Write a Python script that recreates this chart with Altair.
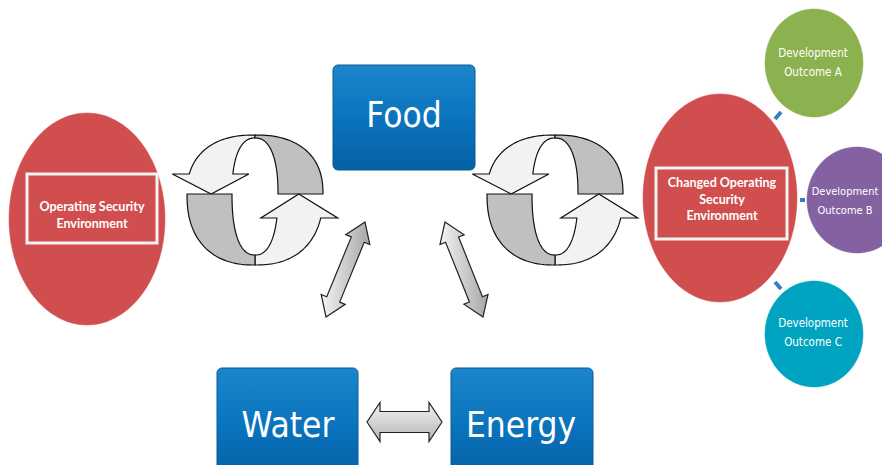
import math
import altair as alt

# ---------------- data (page pixel coordinates) ----------------
BOX_LABELS = ["Food", "Water", "Energy"]
BOX_X0 = [333, 217, 451]
BOX_X1 = [475, 358, 593]
BOX_Y0 = [65, 368, 368]
BOX_Y1 = [170, 478, 478]
BOX_TEXT_X = [404, 288, 521]
BOX_TEXT_Y = [127, 437, 437]

ENV_CX = [87, 720]
ENV_CY = [219, 198]
ENV_RX = [78, 77]
ENV_RY = [106, 104]
ENV_RECT_X0 = [27, 656]
ENV_RECT_X1 = [157, 787]
ENV_RECT_Y0 = [174, 168]
ENV_RECT_Y1 = [243, 239]
ENV_LINES = [["Operating Security", "Environment"],
             ["Changed Operating", "Security", "Environment"]]
ENV_TEXT_X = [92, 722]
ENV_TEXT_Y0 = [207, 183]
ENV_LINE_GAP = 16.5

OUT_LINE1 = ["Development", "Development", "Development"]
OUT_LINE2 = ["Outcome A", "Outcome B", "Outcome C"]
OUT_CX = [814, 857, 814]
OUT_CY = [63, 200, 334]
OUT_RX = [49, 50, 49]
OUT_RY = [54, 53, 53]
OUT_COLORS = ["#8CB24F", "#8462A1", "#00A4C1"]
OUT_TEXT_X = [813, 845, 813]
OUT_TEXT_Y = [54, 192, 324]
OUT_TEXT_SIZE = [11.5, 11, 11.5]

CONNECTORS = [[[775, 119], [781, 112]], [[800, 200], [805, 200]], [[775, 282], [781, 289]]]

CYCLE_CX = [255, 555]
CYCLE_CY = [194, 194]

DIAG_ARROWS = [[[365, 222], [326, 317]], [[445, 222], [483, 317]]]
HORIZ_ARROWS = [[[367, 422], [442, 422]]]

RED = "#D04F4E"
LIGHT = "#F2F2F2"
GREY = "#C0C0C0"


# ---------------- geometry helpers ----------------
def feature(coords, **props):
    return {"type": "Feature", "properties": props,
            "geometry": {"type": "Polygon", "coordinates": [coords]}}


def line_feature(coords, **props):
    return {"type": "Feature", "properties": props,
            "geometry": {"type": "LineString", "coordinates": coords}}


def ellipse(cx, cy, rx, ry, n=120):
    pts = [[cx + rx * math.cos(2 * math.pi * i / n), cy + ry * math.sin(2 * math.pi * i / n)]
           for i in range(n)]
    pts.append(pts[0])
    return pts


def rect(x0, y0, x1, y1):
    return [[x0, y0], [x1, y0], [x1, y1], [x0, y1], [x0, y0]]


def rounded_rect(x0, y0, x1, y1, r=5, n=6):
    pts = []
    corners = [(x1 - r, y0 + r, -90), (x1 - r, y1 - r, 0), (x0 + r, y1 - r, 90), (x0 + r, y0 + r, 180)]
    for cx, cy, a0 in corners:
        for k in range(n + 1):
            a = math.radians(a0 + 90 * k / n)
            pts.append([cx + r * math.cos(a), cy + r * math.sin(a)])
    pts.append(pts[0])
    return pts


P = 0.85


def se(cx, cy, rx, ry, t):
    a = math.radians(t)
    c, s = math.cos(a), math.sin(a)
    return [cx + rx * math.copysign(abs(c) ** P, c), cy - ry * math.copysign(abs(s) ** P, s)]


def t_at(ry, dy):
    s = (dy / abs(ry)) ** (1 / P)
    return 180 - math.degrees(math.asin(s))


def arc(cx, cy, rx, ry, t0, t1, n=40):
    return [se(cx, cy, rx, ry, t0 + (t1 - t0) * i / n) for i in range(n + 1)]


def cycle(cx, cy):
    feats = []
    # (rx_out, ry_out, rx_in, ry_in, arrow-base offset, sign)
    for rxo, ryo, rxi, ryi, dy, sg in [(68, 59, 23, 56, 20, 1), (68, 71, 23, 61, 24, -1)]:
        to = t_at(ryo, dy)
        ti = t_at(ryi, dy)
        RXo, RYo, RXi, RYi = sg * rxo, sg * ryo, sg * rxi, sg * ryi
        outer = arc(cx, cy, RXo, RYo, 90, to)
        inner = arc(cx, cy, RXi, RYi, ti, 90)
        ox = outer[-1][0]
        ix = inner[0][0]
        by = outer[-1][1]
        head = [[ox - sg * 17, by], [(ox + ix) / 2, cy], [ix + sg * 16, by]]
        light = outer + head + inner
        light.append(light[0])
        grey = arc(cx, cy, RXo, RYo, 90, 0) + arc(cx, cy, RXi, RYi, 0, 90)
        grey.append(grey[0])
        feats.append(feature(light, fill=LIGHT, stroke="#111111", sw=1.2))
        feats.append(feature(grey, fill=GREY, stroke="#111111", sw=1.2))
    return feats


def double_arrow(p1, p2, sw, hw, hl):
    dx, dy = p2[0] - p1[0], p2[1] - p1[1]
    L = math.hypot(dx, dy)
    ux, uy = dx / L, dy / L
    nx, ny = -uy, ux

    def pt(base, along, off):
        return [base[0] + ux * along + nx * off, base[1] + uy * along + ny * off]

    pts = [list(p1), pt(p1, hl, hw / 2), pt(p1, hl, sw / 2), pt(p2, -hl, sw / 2), pt(p2, -hl, hw / 2),
           list(p2), pt(p2, -hl, -hw / 2), pt(p2, -hl, -sw / 2), pt(p1, hl, -sw / 2), pt(p1, hl, -hw / 2)]
    pts.append(pts[0])
    return pts


# ---------------- build features ----------------
plain = []
for i in range(2):
    plain.append(feature(ellipse(ENV_CX[i], ENV_CY[i], ENV_RX[i], ENV_RY[i]), fill=RED, stroke=RED, sw=0.5))
    plain.append(feature(rect(ENV_RECT_X0[i], ENV_RECT_Y0[i], ENV_RECT_X1[i], ENV_RECT_Y1[i]),
                         fill="transparent", stroke="#F4F4F4", sw=3))
for i in range(3):
    plain.append(feature(ellipse(OUT_CX[i], OUT_CY[i], OUT_RX[i], OUT_RY[i]),
                         fill=OUT_COLORS[i], stroke=OUT_COLORS[i], sw=0.5))
for i in range(2):
    plain.extend(cycle(CYCLE_CX[i], CYCLE_CY[i]))

boxes = [feature(rounded_rect(BOX_X0[i], BOX_Y0[i], BOX_X1[i], BOX_Y1[i]), name=BOX_LABELS[i])
         for i in range(3)]
diag = [feature(double_arrow(a, b, 14, 26, 19)) for a, b in DIAG_ARROWS]
horiz = [feature(double_arrow(a, b, 21, 39, 13)) for a, b in HORIZ_ARROWS]
conns = [line_feature(c) for c in CONNECTORS]

box_text = [{"x": BOX_TEXT_X[i], "y": BOX_TEXT_Y[i], "t": BOX_LABELS[i]} for i in range(3)]
env_text = []
for i in range(2):
    for j, s in enumerate(ENV_LINES[i]):
        env_text.append({"x": ENV_TEXT_X[i], "y": ENV_TEXT_Y0[i] + j * ENV_LINE_GAP, "t": s})
out_text = []
for i in range(3):
    out_text.append({"x": OUT_TEXT_X[i], "y": OUT_TEXT_Y[i], "t": OUT_LINE1[i], "s": OUT_TEXT_SIZE[i]})
    out_text.append({"x": OUT_TEXT_X[i], "y": OUT_TEXT_Y[i] + 19, "t": OUT_LINE2[i], "s": OUT_TEXT_SIZE[i]})

# ---------------- chart ----------------
NARROW = "DejaVu Sans Condensed, Liberation Sans Narrow, sans-serif"

shapes = alt.Chart(alt.Data(values=plain)).mark_geoshape().encode(
    fill=alt.Fill("properties.fill:N", scale=None),
    stroke=alt.Stroke("properties.stroke:N", scale=None),
    strokeWidth=alt.StrokeWidth("properties.sw:Q", scale=None),
)

box_layer = alt.Chart(alt.Data(values=boxes)).mark_geoshape(
    fill=alt.LinearGradient(gradient="linear", x1=0, x2=0, y1=0, y2=1,
                            stops=[alt.GradientStop(color="#1B85CD", offset=0),
                                   alt.GradientStop(color="#0A74BE", offset=0.5),
                                   alt.GradientStop(color="#0560A5", offset=1)]),
    stroke="#0B5A92", strokeWidth=1,
)

diag_layer = alt.Chart(alt.Data(values=diag)).mark_geoshape(
    fill=alt.LinearGradient(gradient="linear", x1=0, x2=1, y1=0, y2=0,
                            stops=[alt.GradientStop(color="#F4F4F4", offset=0),
                                   alt.GradientStop(color="#A6A6A6", offset=1)]),
    stroke="#222222", strokeWidth=1.2,
)

horiz_layer = alt.Chart(alt.Data(values=horiz)).mark_geoshape(
    fill=alt.LinearGradient(gradient="linear", x1=0, x2=0, y1=0, y2=1,
                            stops=[alt.GradientStop(color="#F4F4F4", offset=0),
                                   alt.GradientStop(color="#B4B4B4", offset=1)]),
    stroke="#222222", strokeWidth=1.2,
)

conn_layer = alt.Chart(alt.Data(values=conns)).mark_geoshape(
    filled=False, stroke="#3C7FC1", strokeWidth=4,
)

big_text = alt.Chart(alt.Data(values=box_text)).mark_text(
    font=NARROW, fontSize=35, color="white", baseline="alphabetic", align="center",
).encode(longitude=alt.Longitude("x:Q"), latitude=alt.Latitude("y:Q"), text="t:N")

env_layer = alt.Chart(alt.Data(values=env_text)).mark_text(
    font="Lato", fontSize=12.5, fontWeight="bold", color="white", baseline="middle", align="center",
).encode(longitude=alt.Longitude("x:Q"), latitude=alt.Latitude("y:Q"), text="t:N")

out_layer = alt.Chart(alt.Data(values=out_text)).mark_text(
    font=NARROW, color="white", baseline="middle", align="center",
).encode(longitude=alt.Longitude("x:Q"), latitude=alt.Latitude("y:Q"), text="t:N",
         size=alt.Size("s:Q", scale=None))

chart = alt.layer(
    shapes, conn_layer, box_layer, diag_layer, horiz_layer, big_text, env_layer, out_layer
).project(
    type="identity", scale=1, translate=[-8, -8]
).properties(
    width=874, height=457, padding=0, background="white"
).configure_view(stroke=None)

chart.save("out.html", embed_options={"renderer": "svg", "actions": False})
